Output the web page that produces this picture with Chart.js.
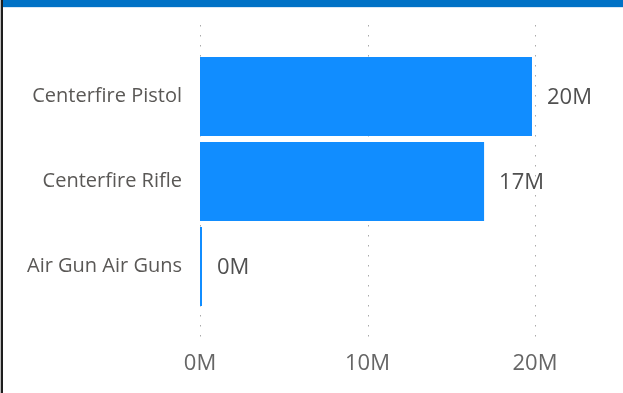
<!DOCTYPE html>
<html>
<head>
<meta charset="utf-8">
<script src="https://cdn.jsdelivr.net/npm/chart.js@4/dist/chart.umd.min.js"></script>
<style>
	html, body { margin: 0; padding: 0; background: #fff; }
	#wrap { position: relative; width: 623px; height: 393px; overflow: hidden; }
	#chart { position: absolute; left: 0; top: 0; }
	#topband { position: absolute; left: 0; top: 0; width: 623px; height: 7px; background: #0072c6; border-bottom: 1px solid #d6e8f7; }
	#edge { position: absolute; left: 0; top: 0; width: 1px; height: 393px; background: #bdbdbd; }
	#frame { position: absolute; left: 1px; top: 0; width: 2px; height: 393px; background: #1e1e1e; }
</style>
</head>
<body>
<div id="wrap">
	<canvas id="chart" width="623" height="393"></canvas>
	<div id="topband"></div>
	<div id="edge"></div>
	<div id="frame"></div>
</div>
<script>
// Firearm categories and their totals
const categories = ["Centerfire Pistol", "Centerfire Rifle", "Air Gun Air Guns"];
const totals = [19820000, 16960000, 120000];
const xTicks = [0, 10000000, 20000000];

const FONT = "'Open Sans', 'Noto Sans', sans-serif";

function millions(v) {
	return Math.round(v / 1000000) + "M";
}

// dotted vertical gridlines, running a bit past the plot area like the original visual
const dottedGrid = {
	id: "dottedGrid",
	beforeDatasetsDraw(chart) {
		const ctx = chart.ctx;
		const xs = chart.scales.x;
		const area = chart.chartArea;
		ctx.save();
		ctx.strokeStyle = "#aaaaaa";
		ctx.lineWidth = 1;
		ctx.setLineDash([1.5, 8.5]);
		xs.ticks.forEach(t => {
			const x = Math.round(xs.getPixelForValue(t.value)) + 0.5;
			ctx.beginPath();
			ctx.moveTo(x, area.top - 29);
			ctx.lineTo(x, area.bottom + 36);
			ctx.stroke();
		});
		ctx.restore();
	}
};

// value labels at the end of each bar
const barValues = {
	id: "barValues",
	afterDatasetsDraw(chart) {
		const ctx = chart.ctx;
		const meta = chart.getDatasetMeta(0);
		ctx.save();
		ctx.font = "22px " + FONT;
		ctx.fillStyle = "#505050";
		ctx.textAlign = "left";
		ctx.textBaseline = "middle";
		meta.data.forEach((bar, i) => {
			ctx.fillText(millions(totals[i]), bar.x + 15, bar.y + 1);
		});
		ctx.restore();
	}
};

new Chart(document.getElementById("chart"), {
	type: "bar",
	data: {
		labels: categories,
		datasets: [{
			data: totals,
			backgroundColor: "#118dff",
			borderWidth: 0,
			barPercentage: 0.93,
			categoryPercentage: 1
		}]
	},
	options: {
		indexAxis: "y",
		responsive: false,
		animation: false,
		layout: { padding: { top: 54, right: 88, bottom: 0, left: 0 } },
		plugins: {
			legend: { display: false },
			tooltip: { enabled: false }
		},
		scales: {
			x: {
				min: 0,
				max: 20000000,
				afterBuildTicks(scale) {
					scale.ticks = xTicks.map(v => ({ value: v }));
				},
				afterFit(scale) { scale.height = 84; },
				grid: { display: false, drawTicks: false },
				border: { display: false },
				ticks: {
					padding: 42,
					color: "#666666",
					font: { family: FONT, size: 22 },
					callback: v => millions(v)
				}
			},
			y: {
				afterFit(scale) { scale.width = 200; },
				grid: { display: false, drawTicks: false },
				border: { display: false },
				ticks: {
					padding: 18,
					color: "#5a5856",
					font: { family: FONT, size: 20 }
				}
			}
		}
	},
	plugins: [dottedGrid, barValues]
});
</script>
</body>
</html>
